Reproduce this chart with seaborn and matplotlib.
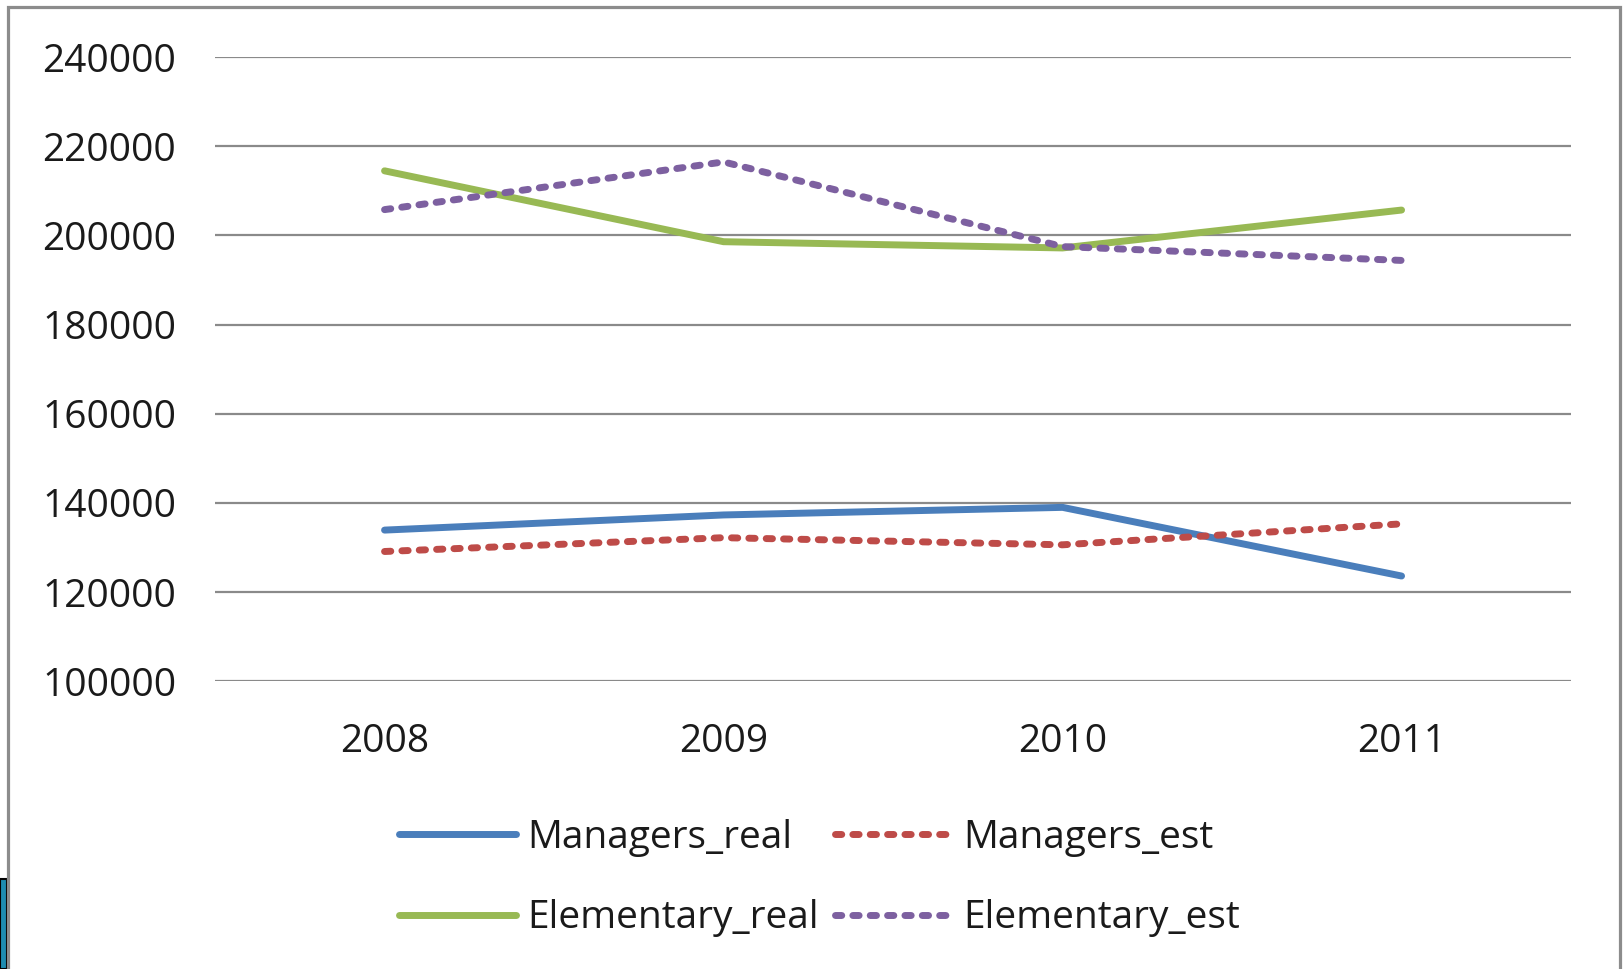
import pandas as pd
import numpy as np
import matplotlib
matplotlib.use("Agg")
import matplotlib.pyplot as plt
from matplotlib.patches import Rectangle
import seaborn as sns

# ── dados ───────────────────────────────────────────────────────────────────
YEARS = ["2008", "2009", "2010", "2011"]
managers_real   = [133900, 137300, 139000, 123600]
managers_est    = [129100, 132200, 130600, 135300]
elementary_real = [214500, 198600, 197200, 205700]
elementary_est  = [205800, 216500, 197500, 194400]

Y_TICKS = [100000, 120000, 140000, 160000, 180000, 200000, 220000, 240000]

SERIES = [
    ("Managers_real",   managers_real,   "#4A7EBB", "solid"),
    ("Managers_est",    managers_est,    "#BE4B48", "dashed"),
    ("Elementary_real", elementary_real, "#98B954", "solid"),
    ("Elementary_est",  elementary_est,  "#7D60A0", "dashed"),
]

sns.set_theme(style="white")
plt.rcParams["font.family"] = ["Open Sans", "DejaVu Sans"]

fig = plt.figure(figsize=(16.23, 9.69), dpi=100)
ax = fig.add_axes([0.1325, 0.297, 0.8355, 0.644])

lw = 5.0
FS = 28
handles = {}
for name, vals, color, style in SERIES:
    df = pd.DataFrame({"ano": YEARS, "valor": vals})
    sns.lineplot(data=df, x="ano", y="valor", ax=ax, color=color,
                 linewidth=lw, sort=False, label=name)
    line = ax.get_lines()[-1]
    if style == "dashed":
        line.set_dashes((0.9, 1.6))
        line.set_dash_capstyle("round")
    else:
        line.set_solid_capstyle("round")
    line.set_solid_joinstyle("miter")
    handles[name] = line

ax.set_xlim(-0.5, 3.5)
ax.set_ylim(100000, 240000)
ax.set_yticks(Y_TICKS)
ax.set_yticklabels([str(v) for v in Y_TICKS])
ax.yaxis.grid(True, color="#8a8a8a", linewidth=1.6)
ax.xaxis.grid(False)
ax.set_axisbelow(True)
for s in ax.spines.values():
    s.set_visible(False)
ax.tick_params(axis="y", length=0, pad=28, labelsize=FS, labelcolor="#1a1a1a")
ax.tick_params(axis="x", length=0, pad=30, labelsize=FS, labelcolor="#1a1a1a")
ax.set_xlabel("")
ax.set_ylabel("")
ax.get_legend().remove()

order = ["Managers_real", "Elementary_real", "Managers_est", "Elementary_est"]
leg = fig.legend([handles[n] for n in order], order, loc="center",
                 bbox_to_anchor=(0.505, 0.094), ncol=2, frameon=False,
                 fontsize=FS, handlelength=3.0, handletextpad=0.3,
                 columnspacing=0.4, labelspacing=1.1, labelcolor="#1a1a1a")

# moldura cinzenta do slide
fig.patches.append(Rectangle((8 / 1623, -0.05), 1612 / 1623, 1.05 - 7 / 969,
                             transform=fig.transFigure, fill=False,
                             edgecolor="#8c8c8c", linewidth=2.3, zorder=5))
# canto decorativo em baixo a esquerda
fig.patches.append(Rectangle((0, 0), 7 / 1623, 90 / 969,
                             transform=fig.transFigure, facecolor="#1E8CB0",
                             edgecolor="black", linewidth=1.5, zorder=4))

fig.savefig("out.png", dpi=100, facecolor="white")
plt.close(fig)
